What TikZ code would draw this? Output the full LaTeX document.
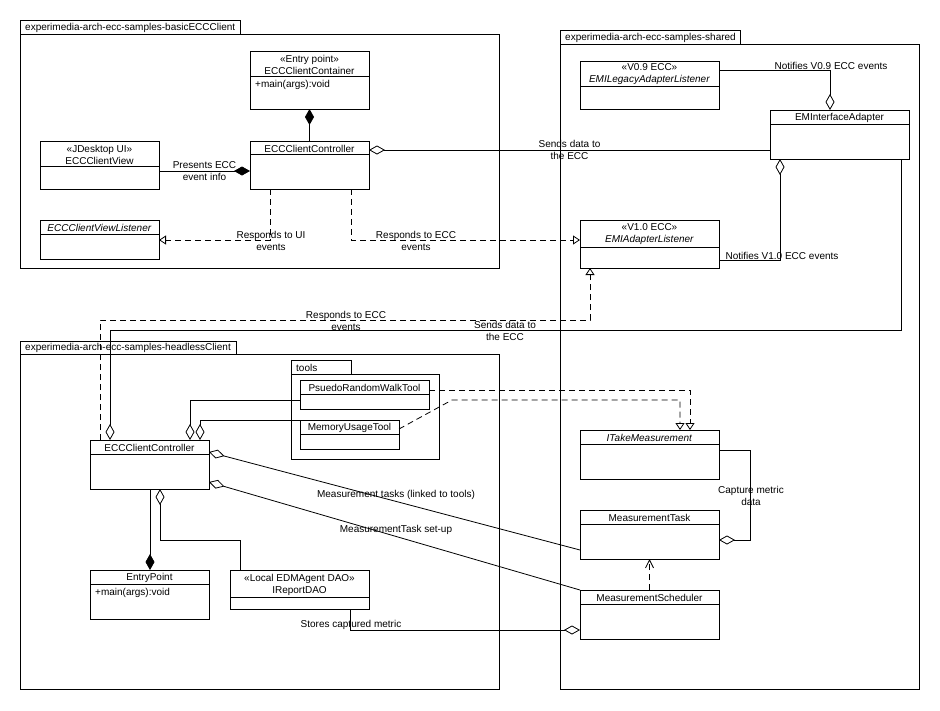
\documentclass[tikz,border=0pt]{standalone}
\usepackage{fontspec}
\setmainfont{Liberation Sans}
\usetikzlibrary{arrows.meta}
\tikzset{
  umlod/.tip={Diamond[open,length=16pt,width=9pt]},
  umlfd/.tip={Diamond[length=16pt,width=9pt]},
  umlot/.tip={Triangle[open,length=7pt,width=9pt]},
  umlstick/.tip={Straight Barb[length=8pt,width=8pt]},
}
\newcommand\umlcls[7]{%
  \node[clsbox, minimum width={#4-#2}, minimum height={#5-#3}, anchor=north west] (#1) at (#2,#3) {};
  \draw[ln] (#2,#6) -- (#4,#6);
  \node[align=center] (#1-h) at ({(#2+#4)/2},{(#3+#6)/2+1}) {#7};
}
\newcommand\umlpkg[8]{% name, x1,y1,x2,y2, tab x2, tab y1, label
  \draw[ln] (#2,#3) rectangle (#4,#5);
  \draw[ln] (#2,#7) rectangle (#6,#3);
  \node[anchor=west] (#1) at (#2+5,{(#7+#3)/2+0.5}) {#8};
}
\begin{document}
\begin{tikzpicture}[x=1pt,y=-1pt,
  every node/.style={font=\fontsize{10}{12}\selectfont, inner sep=0pt},
  ln/.style={line width=0.8pt},
  dsh/.style={line width=0.8pt, dash pattern=on 6pt off 4pt},
  clsbox/.style={draw, line width=0.8pt, fill=white, rectangle, inner sep=0pt, outer sep=0pt},
  lbl/.style={align=center}]
\useasboundingbox (0,0) rectangle (940,710);
\fill[white] (0,0) rectangle (940,710);

% packages
\umlpkg{p1}{20}{34}{499}{268}{240}{20}{experimedia-arch-ecc-samples-basicECCClient}
\umlpkg{p2}{560}{44}{919}{689}{740}{30}{experimedia-arch-ecc-samples-shared}
\umlpkg{p3}{20}{354}{499}{689}{236}{341}{experimedia-arch-ecc-samples-headlessClient}
\umlpkg{p4}{291}{374}{439}{459}{351}{360}{tools}

% classes: basicECCClient
\umlcls{cont}{250}{51}{369}{109}{76}{«Entry point»\\ECCClientContainer}
\node[anchor=west] (cont-op) at (255,85) {+main(args):void};
\umlcls{ctrlT}{250}{141}{369}{189}{154}{ECCClientController}
\umlcls{view}{40}{141}{159}{189}{166}{«JDesktop UI»\\ECCClientView}
\umlcls{viewL}{40}{220}{159}{259}{234}{\textit{ECCClientViewListener}}

% classes: shared
\umlcls{eleg}{580}{61}{719}{109}{86}{«V0.9 ECC»\\\textit{EMILegacyAdapterListener}}
\umlcls{eia}{770}{110}{909}{159}{124}{EMInterfaceAdapter}
\umlcls{eal}{580}{220}{719}{268}{247}{«V1.0 ECC»\\\textit{EMIAdapterListener}}
\umlcls{itm}{580}{430}{719}{479}{444}{\textit{ITakeMeasurement}}
\umlcls{mt}{580}{510}{719}{559}{524}{MeasurementTask}
\umlcls{ms}{580}{590}{719}{639}{604}{MeasurementScheduler}

% classes: headlessClient
\umlcls{prw}{300}{380}{429}{409}{394}{PsuedoRandomWalkTool}
\umlcls{mut}{300}{420}{399}{449}{434}{MemoryUsageTool}
\umlcls{ctrlB}{90}{440}{209}{489}{454}{ECCClientController}
\umlcls{ep}{90}{570}{209}{619}{584}{EntryPoint}
\node[anchor=west] (ep-op) at (95,593) {+main(args):void};
\umlcls{dao}{230}{570}{369}{609}{597}{«Local EDMAgent DAO»\\IReportDAO}

% connectors: basicECCClient
\draw[ln, {umlfd}-] (cont.south) -- (ctrlT.north);
\draw[ln, -{umlfd}] (view.east |- 0,171) -- (ctrlT.west |- 0,171)
  node[lbl, midway] (l1) {Presents ECC\\event info};
\draw[ln, {umlod}-] (ctrlT.east |- 0,150) -- (eia.west |- 0,150)
  node[lbl, midway] (l2) {Sends data to\\the ECC};
\draw[dsh, -{umlot}] (ctrlT.south -| 270,0) -- (270,240) -- (viewL.east |- 0,240);
\node[lbl] (l3) at (271,241) {Responds to UI\\events};
\draw[dsh, -{umlot}] (ctrlT.south -| 351,0) -- (351,240) -- (eal.west |- 0,240);
\node[lbl] (l4) at (416,241) {Responds to ECC\\events};

% connectors: shared
\draw[ln, -{umlod}] (eleg.east |- 0,70) -- (830,70) -- (eia.north -| 830,0);
\node[anchor=south] (l5) at (831,70) {Notifies V0.9 ECC events};
\draw[ln, -{umlod}] (eal.east |- 0,260) -- (780,260) -- (eia.south -| 780,0);
\node[anchor=south] (l6) at (782,260) {Notifies V1.0 ECC events};

% cross-package connectors
\draw[ln, -{umlod}] (eia.south -| 901,0) -- (901,330) -- (110,330) -- (ctrlB.north -| 110,0);
\node[lbl] (l7) at (505,331) {Sends data to\\the ECC};
\draw[dsh, -{umlot}] (ctrlB.north -| 100,0) -- (100,320) -- (590,320) -- (eal.south -| 590,0);
\node[lbl] (l8) at (346,321) {Responds to ECC\\events};

% tools
\draw[dsh, -{umlot}] (prw.east |- 0,390) -- (690,390) -- (itm.north -| 690,0);
\draw[dsh, -{umlot}] (mut.east |- 0,429) -- (452,400) -- (680,400) -- (itm.north -| 680,0);
\draw[ln, -{umlod}] (prw.west |- 0,400) -- (190,400) -- (ctrlB.north -| 190,0);
\draw[ln, -{umlod}] (mut.west |- 0,420) -- (200,420) -- (ctrlB.north -| 200,0);

% measurement
\draw[ln, {umlod}-] (ctrlB.east |- 0,452) -- (mt.west |- 0,550);
\node (l9) at (396,495) {Measurement tasks (linked to tools)};
\draw[ln, {umlod}-] (ctrlB.east |- 0,482) -- (ms.north west);
\node (l10) at (396,530) {MeasurementTask set-up};
\draw[ln, -{umlod}] (itm.east |- 0,450) -- (750,450) -- (750,540) -- (mt.east |- 0,540);
\node[lbl] (l11) at (751,496) {Capture metric\\data};
\draw[dsh, -{umlstick}] (ms.north) -- (mt.south);
\draw[ln, -{umlfd}] (ctrlB.south -| 150,0) -- (ep.north -| 150,0);
\draw[ln, {umlod}-] (ctrlB.south -| 160,0) -- (160,540) -- (240,540) -- (dao.north -| 240,0);
\draw[ln, -{umlod}] (dao.south -| 350,0) -- (350,630) -- (ms.west |- 0,630);
\node[anchor=south] (l12) at (351,630) {Stores captured metric};
\end{tikzpicture}
\end{document}
